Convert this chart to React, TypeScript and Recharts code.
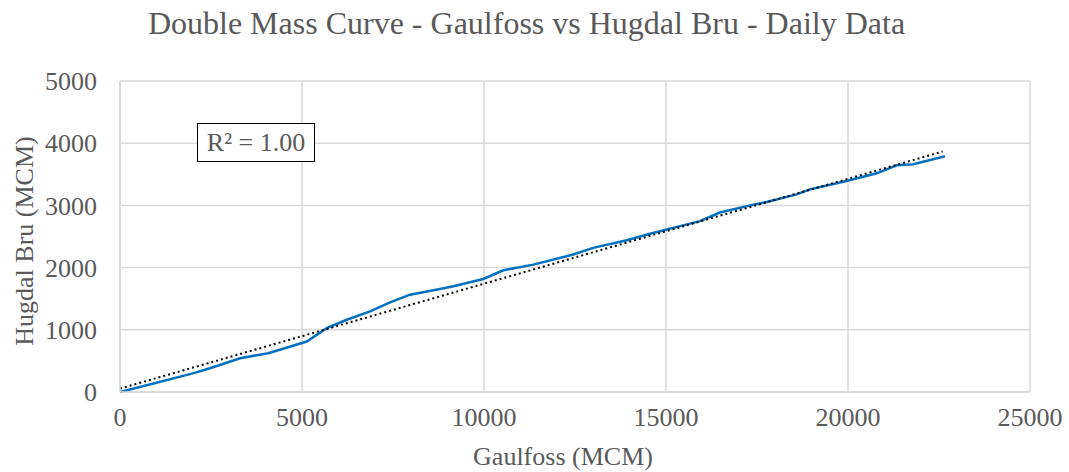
import React from "react";
import {
  LineChart,
  Line,
  XAxis,
  YAxis,
  CartesianGrid,
} from "recharts";

// cumulative volumes (MCM)
const gaulfoss = [
  0, 1000, 2000, 2470, 3300, 4075, 5130, 5680, 6230, 6870, 7420, 7970, 8790,
  9160, 9980, 10530, 11355, 12450, 13000, 13920, 14560, 15385, 15930, 16480,
  17310, 17765, 18590, 18955, 19960, 20790, 21340, 21790, 22665,
];
const hugdalBru = [
  0, 150, 300, 382, 543, 624, 811, 1027, 1161, 1295, 1440, 1565, 1656,
  1699, 1817, 1957, 2048, 2210, 2317, 2441, 2543, 2667, 2747, 2885,
  3000, 3054, 3177, 3258, 3392, 3516, 3645, 3661, 3790,
];

// linear trendline end points
const trendX = [0, 22600];
const trendY = [55, 3866];

const xTicks = [0, 5000, 10000, 15000, 20000, 25000];
const yTicks = [0, 1000, 2000, 3000, 4000, 5000];

const massData = gaulfoss.map((x, i) => ({ x, y: hugdalBru[i] }));
const trendData = trendX.map((x, i) => ({ x, y: trendY[i] }));

const FONT = "'Liberation Serif', 'Times New Roman', serif";
const TEXT = "#595959";
const GRID = "#d9d9d9";

export default function App() {
  const tick = { fontSize: 26, fill: TEXT, fontFamily: FONT };
  return (
    <div
      style={{
        position: "absolute",
        left: 0,
        top: 0,
        width: 1069,
        height: 472,
        background: "#fff",
        fontFamily: FONT,
      }}
    >
      <div
        style={{
          position: "absolute",
          left: 0,
          width: 1053,
          top: 5,
          textAlign: "center",
          fontSize: 32,
          color: TEXT,
          whiteSpace: "nowrap",
        }}
      >
        Double Mass Curve - Gaulfoss vs Hugdal Bru - Daily Data
      </div>
      <LineChart
        width={1069}
        height={472}
        margin={{ top: 81, right: 39, left: 0, bottom: 0 }}
      >
        <CartesianGrid stroke={GRID} strokeWidth={1.5} />
        <XAxis
          type="number"
          dataKey="x"
          domain={[0, 25000]}
          ticks={xTicks}
          tick={tick}
          tickLine={false}
          axisLine={{ stroke: GRID, strokeWidth: 1.5 }}
          tickMargin={10}
          height={80}
          allowDataOverflow
        />
        <YAxis
          type="number"
          dataKey="y"
          domain={[0, 5000]}
          ticks={yTicks}
          tick={tick}
          tickLine={false}
          axisLine={{ stroke: GRID, strokeWidth: 1.5 }}
          tickMargin={17}
          width={120}
        />
        <Line
          data={massData}
          dataKey="y"
          type="linear"
          stroke="#0070c0"
          strokeWidth={2.5}
          dot={false}
          isAnimationActive={false}
        />
        <Line
          data={trendData}
          dataKey="y"
          type="linear"
          stroke="#000"
          strokeWidth={2}
          strokeDasharray="2 3"
          dot={false}
          isAnimationActive={false}
        />
      </LineChart>
      <div
        style={{
          position: "absolute",
          left: 197,
          top: 123,
          width: 116,
          height: 37,
          border: "1.5px solid #000",
          background: "#fff",
          fontSize: 26,
          color: TEXT,
          lineHeight: "37px",
          textAlign: "center",
          whiteSpace: "nowrap",
        }}
      >
        R² = 1.00
      </div>
      <div
        style={{
          position: "absolute",
          left: 0,
          width: 1126,
          top: 442,
          textAlign: "center",
          fontSize: 26,
          color: TEXT,
          whiteSpace: "nowrap",
        }}
      >
        Gaulfoss (MCM)
      </div>
      <div
        style={{
          position: "absolute",
          left: 25,
          top: 241,
          transform: "translate(-50%, -50%) rotate(-90deg)",
          whiteSpace: "nowrap",
          fontSize: 26,
          color: TEXT,
        }}
      >
        Hugdal Bru (MCM)
      </div>
    </div>
  );
}
